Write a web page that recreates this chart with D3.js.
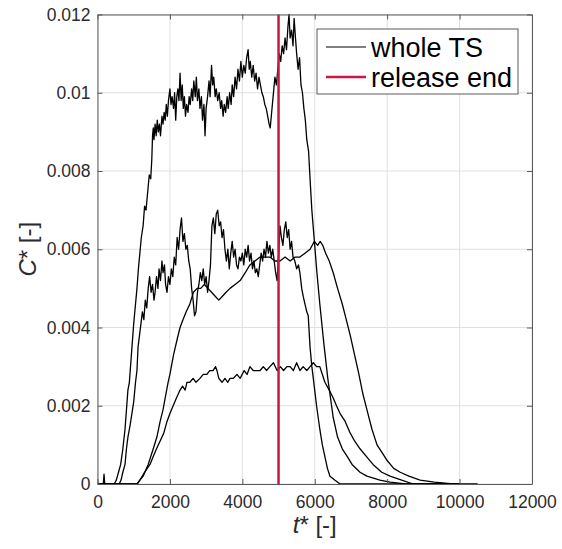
<!DOCTYPE html>
<html>
<head>
<meta charset="utf-8">
<script src="https://cdn.jsdelivr.net/npm/d3@7"></script>
<style>
  body { margin: 0; background: #fff; }
  text { font-family: "Liberation Sans", Arial, sans-serif; }
</style>
</head>
<body>
<script>
// tick values and labels
const xTicks = [0, 2000, 4000, 6000, 8000, 10000, 12000]
const xTickLabels = ["0", "2000", "4000", "6000", "8000", "10000", "12000"]
const yTicks = [0, 0.002, 0.004, 0.006, 0.008, 0.01, 0.012]
const yTickLabels = ["0", "0.002", "0.004", "0.006", "0.008", "0.01", "0.012"]
const legendLabels = ["whole TS", "release end"]
const releaseEnd = 5000

// time series [t*, C*]
const seriesA = [[0,0],[160,0],[180,0.00025],[200,0],[460,0],[520,0.0001],[580,0.0003],[640,0.0005],[700,0.0009],[760,0.0014],[800,0.0019],[840,0.0024],[880,0.0026],[920,0.0031],[960,0.0036],[1000,0.0041],[1040,0.0045],[1090,0.0050],[1130,0.0055],[1170,0.0059],[1210,0.0063],[1260,0.0066],[1300,0.0071],[1340,0.0070],[1390,0.0075],[1430,0.0079],[1470,0.0078],[1500,0.0083],[1520,0.0089],[1540,0.0091],[1560,0.0088],[1590,0.0092],[1620,0.0089],[1650,0.0093],[1680,0.0090],[1710,0.0092],[1740,0.0089],[1780,0.0094],[1810,0.0092],[1840,0.0095],[1870,0.0093],[1900,0.0097],[1930,0.0094],[1960,0.0098],[2000,0.0101],[2030,0.0097],[2060,0.0099],[2100,0.0096],[2130,0.0100],[2160,0.0093],[2190,0.0099],[2220,0.0101],[2250,0.0098],[2280,0.0105],[2310,0.0098],[2340,0.0102],[2370,0.0096],[2400,0.0099],[2430,0.0094],[2460,0.0097],[2500,0.0095],[2530,0.0099],[2560,0.0097],[2600,0.0101],[2630,0.0098],[2660,0.0103],[2700,0.0099],[2730,0.0104],[2760,0.0098],[2800,0.0101],[2830,0.0096],[2870,0.0099],[2900,0.0093],[2940,0.0097],[2970,0.0089],[3000,0.0096],[3040,0.0099],[3080,0.0103],[3110,0.0099],[3150,0.0107],[3180,0.0102],[3210,0.0104],[3250,0.0099],[3280,0.0101],[3320,0.0098],[3360,0.0100],[3400,0.0096],[3430,0.0098],[3470,0.0094],[3500,0.0097],[3540,0.0095],[3580,0.0099],[3610,0.0096],[3650,0.0100],[3690,0.0097],[3720,0.0102],[3760,0.0099],[3800,0.0104],[3840,0.0101],[3880,0.0106],[3920,0.0103],[3960,0.0108],[4000,0.0104],[4040,0.0107],[4080,0.0105],[4120,0.0109],[4160,0.0111],[4190,0.0106],[4220,0.0108],[4260,0.0104],[4300,0.0107],[4340,0.0103],[4380,0.0105],[4420,0.0101],[4460,0.0104],[4500,0.0102],[4540,0.0100],[4580,0.0099],[4620,0.0097],[4660,0.0096],[4700,0.0094],[4740,0.0092],[4770,0.0091],[4810,0.0095],[4850,0.0099],[4900,0.0104],[4940,0.0102],[4980,0.0106],[5020,0.0110],[5060,0.0108],[5100,0.0112],[5140,0.0110],[5180,0.0114],[5220,0.0111],[5260,0.0117],[5290,0.0120],[5320,0.0114],[5360,0.0116],[5400,0.0112],[5430,0.0119],[5460,0.0115],[5500,0.0110],[5540,0.0106],[5580,0.0109],[5620,0.0102],[5660,0.0100],[5700,0.0096],[5740,0.0093],[5780,0.0088],[5830,0.0085],[5870,0.0078],[5920,0.0070],[5990,0.0062],[6060,0.0054],[6140,0.0046],[6250,0.0036],[6360,0.0027],[6510,0.0017],[6630,0.0012],[6760,0.0009],[6900,0.0007],[7030,0.0005],[7250,0.0003],[7440,0.0002],[7800,0.0001],[8080,0.00005],[8500,0],[10000,0]]

const seriesB = [[0,0],[600,0],[650,0.0001],[700,0.0003],[760,0.0005],[800,0.0009],[840,0.0012],[900,0.0015],[950,0.0018],[1000,0.0021],[1050,0.0026],[1090,0.0029],[1120,0.0035],[1160,0.0038],[1200,0.0041],[1240,0.0044],[1280,0.0042],[1320,0.0047],[1360,0.0045],[1400,0.0050],[1440,0.0053],[1480,0.0049],[1520,0.0051],[1560,0.0047],[1590,0.0049],[1630,0.0053],[1670,0.0050],[1700,0.0055],[1740,0.0052],[1780,0.0057],[1810,0.0054],[1850,0.0056],[1880,0.0051],[1920,0.0049],[1960,0.0053],[2000,0.0051],[2040,0.0055],[2080,0.0053],[2120,0.0058],[2160,0.0056],[2200,0.0063],[2240,0.0060],[2280,0.0065],[2320,0.0068],[2360,0.0062],[2400,0.0064],[2440,0.0060],[2480,0.0061],[2520,0.0057],[2560,0.0055],[2600,0.0050],[2640,0.0047],[2680,0.0043],[2720,0.0044],[2760,0.0049],[2800,0.0051],[2840,0.0054],[2880,0.0052],[2920,0.0055],[2960,0.0051],[3000,0.0053],[3040,0.0049],[3080,0.0052],[3120,0.0056],[3160,0.0066],[3200,0.0068],[3240,0.0064],[3280,0.0069],[3320,0.0070],[3360,0.0066],[3400,0.0067],[3440,0.0063],[3480,0.0065],[3520,0.0060],[3560,0.0057],[3600,0.0060],[3640,0.0055],[3680,0.0059],[3720,0.0062],[3760,0.0058],[3800,0.0060],[3840,0.0056],[3880,0.0055],[3920,0.0058],[3960,0.0057],[4000,0.0059],[4040,0.0056],[4080,0.0060],[4120,0.0058],[4160,0.0061],[4200,0.0057],[4240,0.0059],[4280,0.0055],[4320,0.0057],[4360,0.0054],[4400,0.0055],[4440,0.0053],[4480,0.0056],[4520,0.0059],[4560,0.0057],[4600,0.0060],[4640,0.0058],[4680,0.0062],[4720,0.0059],[4760,0.0061],[4800,0.0058],[4840,0.0060],[4880,0.0057],[4920,0.0054],[4960,0.0052],[5000,0.0058],[5040,0.0066],[5080,0.0063],[5120,0.0061],[5160,0.0065],[5200,0.0067],[5240,0.0063],[5280,0.0065],[5320,0.0060],[5360,0.0062],[5400,0.0058],[5450,0.0057],[5500,0.0055],[5550,0.0056],[5590,0.0054],[5640,0.0050],[5680,0.0048],[5730,0.0046],[5780,0.0044],[5820,0.0043],[5870,0.0035],[5920,0.0030],[5960,0.0027],[6050,0.0020],[6140,0.0014],[6210,0.0010],[6280,0.0007],[6350,0.0004],[6420,0.0002],[6550,0.0001],[6700,0],[10500,0]]

const seriesC = [[0,0],[1090,0],[1170,0.0001],[1260,0.0002],[1400,0.0005],[1540,0.0009],[1640,0.0012],[1730,0.0016],[1810,0.0019],[1870,0.0022],[1950,0.0026],[2000,0.0028],[2100,0.0033],[2200,0.0037],[2280,0.0040],[2360,0.0042],[2450,0.0044],[2550,0.0046],[2650,0.0049],[2750,0.0050],[2850,0.0050],[2950,0.0051],[3050,0.0050],[3150,0.0049],[3250,0.0048],[3350,0.0047],[3450,0.0048],[3550,0.0049],[3660,0.0050],[3800,0.0051],[3940,0.0052],[4080,0.0054],[4210,0.0056],[4350,0.0057],[4490,0.0058],[4620,0.0058],[4760,0.0058],[4900,0.0057],[5040,0.0057],[5180,0.0058],[5320,0.0057],[5460,0.0058],[5590,0.0058],[5730,0.0059],[5870,0.0060],[5990,0.0062],[6080,0.0061],[6150,0.0062],[6220,0.0061],[6300,0.0059],[6400,0.0057],[6510,0.0054],[6630,0.0050],[6760,0.0046],[6870,0.0042],[6980,0.0038],[7100,0.0033],[7220,0.0028],[7330,0.0023],[7440,0.0019],[7580,0.0014],[7720,0.0010],[7860,0.0008],[8000,0.0006],[8180,0.0004],[8360,0.0003],[8600,0.0002],[8910,0.0001],[9300,0.00005],[9820,0],[10000,0]]

const seriesD = [[0,0],[1100,0],[1170,0.0001],[1300,0.0003],[1450,0.0005],[1540,0.0007],[1630,0.0009],[1730,0.0011],[1830,0.0013],[1920,0.0016],[2000,0.0018],[2090,0.0020],[2180,0.0022],[2280,0.0024],[2350,0.0025],[2420,0.0024],[2470,0.0026],[2550,0.0026],[2640,0.0027],[2720,0.0026],[2830,0.0027],[2920,0.0028],[3020,0.0028],[3100,0.0029],[3190,0.0029],[3260,0.0030],[3300,0.0029],[3350,0.0027],[3440,0.0026],[3520,0.0027],[3600,0.0026],[3660,0.0027],[3750,0.0027],[3850,0.0028],[3940,0.0027],[4050,0.0029],[4130,0.0028],[4210,0.0030],[4300,0.0029],[4400,0.0029],[4490,0.0029],[4580,0.0030],[4670,0.0029],[4760,0.0030],[4860,0.0031],[4960,0.0029],[5050,0.0030],[5140,0.0029],[5230,0.0030],[5320,0.0030],[5410,0.0029],[5500,0.0031],[5590,0.0029],[5680,0.0030],[5780,0.0029],[5870,0.0030],[5960,0.0031],[6050,0.0030],[6140,0.0030],[6210,0.0028],[6280,0.0026],[6400,0.0024],[6510,0.0022],[6600,0.0020],[6700,0.0018],[6840,0.0016],[6980,0.0013],[7100,0.0011],[7250,0.0009],[7430,0.0007],[7610,0.0005],[7850,0.0003],[8080,0.0002],[8400,0.0001],[8720,0],[10000,0]]

const allSeries = [seriesA, seriesB, seriesC, seriesD]

//SVG Größe
const width = 562
const height = 549
const plotLeft = 97.5, plotTop = 14.5, plotRight = 532, plotBottom = 484

const svg = d3.select("body").append("svg")
    .attr("width", width)
    .attr("height", height)

const x = d3.scaleLinear().domain([0, 12000]).range([plotLeft, plotRight])
const y = d3.scaleLinear().domain([0, 0.012]).range([plotBottom, plotTop])

const axisColor = "#5a5a5a"
const textColor = "#2b2b2b"

// grid
svg.append("g")
    .selectAll("line")
    .data(xTicks)
    .enter().append("line")
        .attr("x1", d => x(d)).attr("x2", d => x(d))
        .attr("y1", plotTop).attr("y2", plotBottom)
        .attr("stroke", "#e0e0e0").attr("stroke-width", 1)
svg.append("g")
    .selectAll("line")
    .data(yTicks)
    .enter().append("line")
        .attr("x1", plotLeft).attr("x2", plotRight)
        .attr("y1", d => y(d)).attr("y2", d => y(d))
        .attr("stroke", "#e0e0e0").attr("stroke-width", 1)

// clip
svg.append("clipPath").attr("id", "clip")
    .append("rect").attr("x", plotLeft).attr("y", plotTop - 1)
    .attr("width", plotRight - plotLeft).attr("height", plotBottom - plotTop + 1)

const line = d3.line().x(d => x(d[0])).y(d => y(d[1]))

svg.append("g").attr("clip-path", "url(#clip)")
    .selectAll("path")
    .data(allSeries)
    .enter().append("path")
        .attr("d", line)
        .attr("fill", "none")
        .attr("stroke", "#000")
        .attr("stroke-width", 1.3)
        .attr("stroke-linejoin", "round")

// release end
svg.append("line")
    .attr("x1", x(releaseEnd)).attr("x2", x(releaseEnd))
    .attr("y1", y(0)).attr("y2", y(0.012))
    .attr("stroke", "#cc1744").attr("stroke-width", 2.5)

// axes
const styleAxis = (g) => {
    g.selectAll(".domain").attr("stroke", axisColor)
    g.selectAll(".tick line").attr("stroke", axisColor)
    g.selectAll("text").attr("fill", textColor)
    g.attr("font-size", 17.5).attr("font-family", "Liberation Sans, Arial, sans-serif")
}

svg.append("g").attr("transform", `translate(0,${plotBottom})`)
    .call(d3.axisBottom(x).tickValues(xTicks).tickSizeInner(-5).tickSizeOuter(0).tickPadding(12)
        .tickFormat((d, i) => xTickLabels[i]))
    .call(styleAxis)
svg.append("g").attr("transform", `translate(0,${plotTop})`)
    .call(d3.axisTop(x).tickValues(xTicks).tickSizeInner(-5).tickSizeOuter(0).tickFormat(""))
    .call(styleAxis)
svg.append("g").attr("transform", `translate(${plotLeft},0)`)
    .call(d3.axisLeft(y).tickValues(yTicks).tickSizeInner(-5).tickSizeOuter(0).tickPadding(7)
        .tickFormat((d, i) => yTickLabels[i]))
    .call(styleAxis)
svg.append("g").attr("transform", `translate(${plotRight},0)`)
    .call(d3.axisRight(y).tickValues(yTicks).tickSizeInner(-5).tickSizeOuter(0).tickFormat(""))
    .call(styleAxis)

// axis labels
const xl = svg.append("text")
    .attr("x", (plotLeft + plotRight) / 2).attr("y", 533)
    .attr("text-anchor", "middle").attr("font-size", 24).attr("fill", textColor)
xl.append("tspan").attr("font-style", "italic").text("t")
xl.append("tspan").text("* [-]")

const yl = svg.append("text")
    .attr("transform", `translate(36,${(plotTop + plotBottom) / 2}) rotate(-90)`)
    .attr("text-anchor", "middle").attr("font-size", 24).attr("fill", textColor)
yl.append("tspan").attr("font-style", "italic").text("C")
yl.append("tspan").text("* [-]")

//Legende
const legend = svg.append("g")
legend.append("rect")
    .attr("x", 317).attr("y", 29).attr("width", 201).attr("height", 65)
    .attr("fill", "#fff").attr("stroke", axisColor).attr("stroke-width", 1)
const legendColors = ["#000", "#cc1744"]
const legendWidths = [1, 2.5]
legendLabels.forEach((lab, i) => {
    const ly = 47 + i * 30
    legend.append("line")
        .attr("x1", 326).attr("x2", 366).attr("y1", ly).attr("y2", ly)
        .attr("stroke", legendColors[i]).attr("stroke-width", legendWidths[i])
    legend.append("text")
        .attr("x", 371).attr("y", ly + 10)
        .attr("font-size", 27).attr("fill", "#000")
        .text(lab)
})
</script>
</body>
</html>
